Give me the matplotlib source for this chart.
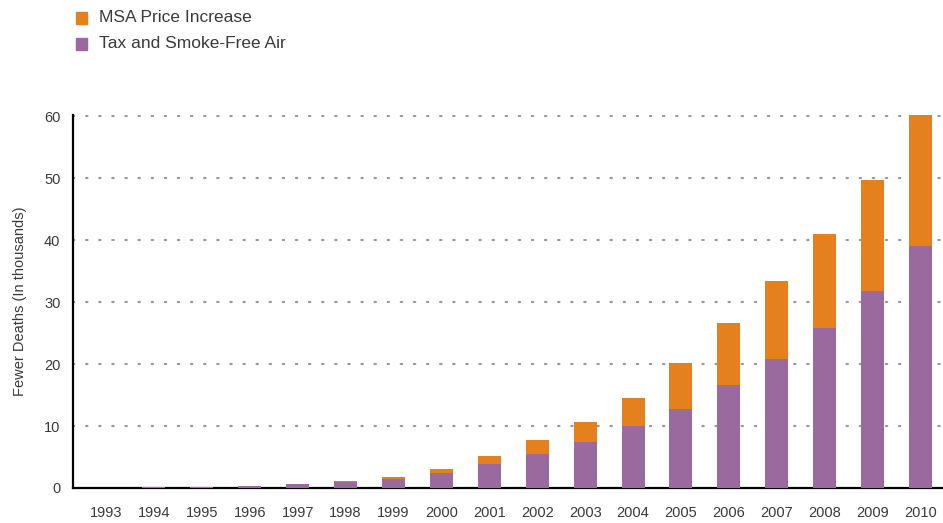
import numpy as np
import matplotlib.pyplot as plt

plt.rcParams['font.family'] = ['Liberation Sans', 'DejaVu Sans']

# fewer deaths, in thousands
years = [str(y) for y in range(1993, 2011)]
tax_smokefree = [0, 0.12, 0.12, 0.25, 0.6, 1.0, 1.5, 2.4, 3.9, 5.5, 7.4, 10.0,
                 12.7, 16.6, 20.8, 25.8, 31.8, 39.0]
msa_price = [0, 0.05, 0.05, 0.12, 0.05, 0.1, 0.2, 0.6, 1.3, 2.2, 3.2, 4.5,
             7.5, 10.0, 12.6, 15.2, 17.9, 21.3]
yticks = [0, 10, 20, 30, 40, 50, 60]

purple = '#9A6A9E'
orange = '#E5801E'
txt = '#3a3a3a'

fig = plt.figure(figsize=(9.43, 5.23), dpi=100)
ax = fig.add_axes([0.0774, 0.067, 0.9226, 0.714])

x = np.arange(len(years))
ax.bar(x, tax_smokefree, width=0.48, color=purple, zorder=3)
ax.bar(x, msa_price, width=0.48, bottom=tax_smokefree, color=orange, zorder=3)

ax.set_xlim(-0.69, 17.47)
ax.set_ylim(0, 60.3)
ax.set_yticks(yticks)
ax.set_xticks(x)
ax.set_xticklabels(years)
ax.tick_params(length=0, labelsize=10.5, colors=txt)
ax.tick_params(axis='x', pad=13)
ax.tick_params(axis='y', pad=9)

for v in yticks[1:]:
    ax.axhline(v, color='#9a9a9a', lw=1.6, linestyle=(0, (0.6, 5.3)),
               dash_capstyle='round', zorder=1)

for s in ['top', 'right']:
    ax.spines[s].set_visible(False)
ax.spines['left'].set_linewidth(1.6)
ax.spines['bottom'].set_linewidth(1.6)
ax.spines['left'].set_color('black')
ax.spines['bottom'].set_color('black')

ax.set_ylabel('Fewer Deaths (In thousands)', fontsize=10.5, color=txt, labelpad=12)

# legend squares
fig.patches.append(plt.Rectangle((76 / 943, 1 - 24 / 523), 11 / 943, 12 / 523,
                                 transform=fig.transFigure, color=orange))
fig.patches.append(plt.Rectangle((76 / 943, 1 - 50 / 523), 11 / 943, 12 / 523,
                                 transform=fig.transFigure, color=purple))
fig.text(99 / 943, 1 - 18 / 523, 'MSA Price Increase', fontsize=12.5,
         color=txt, va='center')
fig.text(99 / 943, 1 - 44 / 523, 'Tax and Smoke-Free Air', fontsize=12.5,
         color=txt, va='center')

fig.savefig('out.png', dpi=100)
